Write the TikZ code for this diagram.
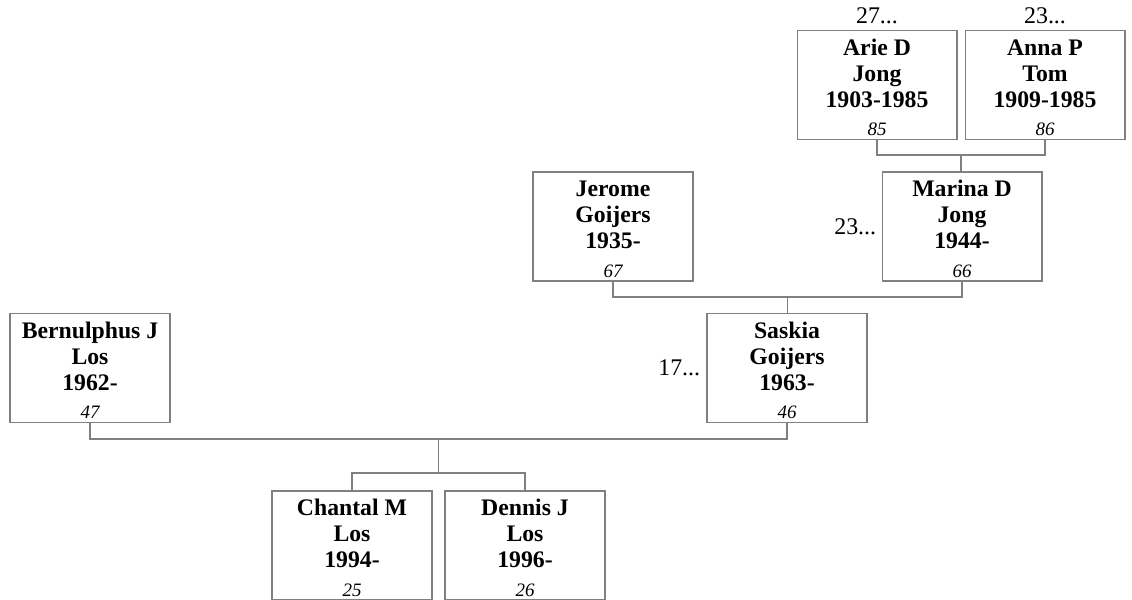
\documentclass[tikz,border=0pt]{standalone}
\usepackage{fontspec}
\setmainfont{Liberation Serif}
\usetikzlibrary{positioning}
\definecolor{linegray}{RGB}{128,128,128}
\tikzstyle{person} = [rectangle, draw=linegray, line width=0.6pt, minimum width=3.2cm, minimum height=2.18cm, inner sep=0pt, align=center, font=\fontsize{13.5}{14.7}\selectfont\bfseries]
\tikzstyle{link} = [draw=linegray, line width=0.6pt]
\tikzstyle{more} = [inner sep=0pt, font=\fontsize{13.6}{15}\selectfont]
\newcommand{\card}[4]{\rule{0pt}{12pt}#1\\#2\\#3\\[1.5pt]{\fontsize{10.8}{14.7}\selectfont\mdseries\itshape #4}}

\begin{document}
\begin{tikzpicture}[x=0.02cm, y=-0.02cm]
  \useasboundingbox (0,0) rectangle (1132,599);

  % grandparents
  \node[person] (arie) at (877,85) {\card{Arie D}{Jong}{1903-1985}{85}};
  \node[person] (anna) at (1045,85) {\card{Anna P}{Tom}{1909-1985}{86}};
  \node[more, above=0.12cm of arie] (arietag) {27...};
  \node[more, above=0.12cm of anna] (annatag) {23...};

  % parents of Saskia
  \node[person] (jerome) at (613,226.5) {\card{Jerome}{Goijers}{1935-}{67}};
  \node[person] (marina) at (962,226.5) {\card{Marina D}{Jong}{1944-}{66}};
  \node[more, left=0.1cm of marina] (marinatag) {23...};

  % parents
  \node[person] (bernulphus) at (90,368) {\card{Bernulphus J}{Los}{1962-}{47}};
  \node[person] (saskia) at (787,368) {\card{Saskia}{Goijers}{1963-}{46}};
  \node[more, left=0.12cm of saskia] (saskiatag) {17...};

  % children
  \node[person] (chantal) at (352,545.5) {\card{Chantal M}{Los}{1994-}{25}};
  \node[person] (dennis) at (525,545.5) {\card{Dennis J}{Los}{1996-}{26}};

  % couples
  \coordinate (topbar) at (961,155);
  \coordinate (midbar) at (787.5,297);
  \coordinate (lowbar) at (438.5,439);
  \coordinate (kidbar) at (438.5,473);
  \draw[link] (arie.south) |- (topbar) -| (anna.south);
  \draw[link] (topbar) -- (topbar |- marina.north);
  \draw[link] (jerome.south) |- (midbar) -| (marina.south);
  \draw[link] (midbar) -- (midbar |- saskia.north);
  \draw[link] (bernulphus.south) |- (lowbar) -| (saskia.south);

  % siblings
  \draw[link] (lowbar) -- (kidbar);
  \draw[link] (chantal.north) |- (kidbar) -| (dennis.north);
\end{tikzpicture}
\end{document}
